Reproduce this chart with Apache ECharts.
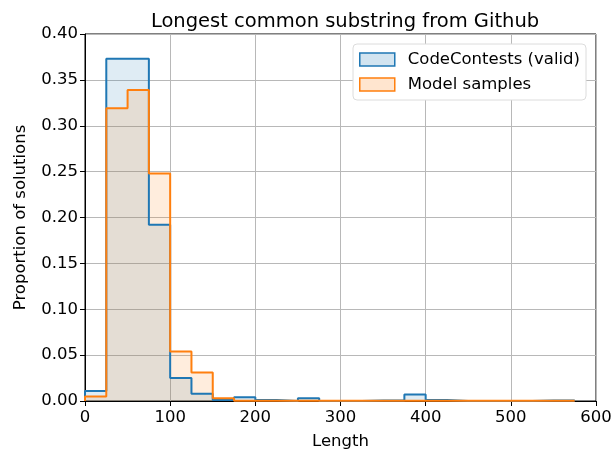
<!DOCTYPE html>
<html>
<head>
<meta charset="utf-8">
<script src="https://cdn.jsdelivr.net/npm/echarts@6/dist/echarts.min.js"></script>
<style>
  html, body { margin: 0; padding: 0; background: #fff; }
  #main { width: 613px; height: 451px; }
</style>
</head>
<body>
<div id="main"></div>
<script>
// histogram bins, width 25, from 0 to 575
var binEdges = [0, 25, 50, 75, 100, 125, 150, 175, 200, 225, 250, 275, 300, 325, 350, 375, 400, 425, 450, 475, 500, 525, 550, 575];
var codeContests = [0.011, 0.373, 0.373, 0.192, 0.025, 0.008, 0.001, 0.004, 0.001, 0, 0.003, 0, 0, 0.0005, 0.0005, 0.007, 0.001, 0, 0, 0, 0, 0.0005, 0.0005];
var modelSamples = [0.005, 0.319, 0.339, 0.248, 0.054, 0.031, 0.003, 0.0003, 0.0002, 0.0002, 0.0002, 0.0002, 0.0002, 0.0002, 0.0002, 0.0002, 0.0002, 0.0002, 0.0002, 0.0002, 0.0002, 0.0002, 0.0002];
var xTicks = [0, 100, 200, 300, 400, 500, 600];

function stepData(vals) {
  var d = [[binEdges[0], 0]];
  for (var i = 0; i < vals.length; i++) {
    d.push([binEdges[i], vals[i]]);
  }
  var last = binEdges[binEdges.length - 1];
  d.push([last, vals[vals.length - 1]]);
  d.push([last, 0]);
  return d;
}

var font = 'DejaVu Sans';
var chart = echarts.init(document.getElementById('main'));
var option = {
  animation: false,
  textStyle: { fontFamily: font },
  title: {
    text: 'Longest common substring from Github',
    left: 340, top: 7, textAlign: 'center',
    textStyle: { fontFamily: font, fontSize: 19.5, fontWeight: 'normal', color: '#000' }
  },
  legend: {
    orient: 'vertical',
    right: 27, top: 44,
    itemWidth: 35, itemHeight: 13, itemGap: 8,
    padding: [7, 6, 7, 6],
    backgroundColor: '#fff',
    borderColor: '#dcdcdc', borderWidth: 1, borderRadius: 4,
    textStyle: { fontFamily: font, fontSize: 16.5, color: '#000', padding: [0, 0, 0, 8] },
    data: [
      { name: 'CodeContests (valid)', icon: 'rect', itemStyle: { color: 'rgba(31,119,180,0.2)', borderColor: '#1f77b4', borderWidth: 1.5 } },
      { name: 'Model samples', icon: 'rect', itemStyle: { color: 'rgba(255,127,14,0.2)', borderColor: '#ff7f0e', borderWidth: 1.5 } }
    ]
  },
  grid: { left: 85, right: 17, top: 34, bottom: 50, outerBoundsMode: 'none', show: true, borderColor: '#000', borderWidth: 1 },
  xAxis: {
    type: 'value', min: 0, max: 600, interval: 100,
    name: 'Length', nameLocation: 'middle', nameGap: 32,
    nameTextStyle: { fontFamily: font, fontSize: 16.5, color: '#000' },
    axisLine: { show: true, lineStyle: { color: '#000' } },
    axisTick: { show: true, length: 5, lineStyle: { color: '#000' } },
    axisLabel: { fontFamily: font, fontSize: 16.5, color: '#000', margin: 8,
      customValues: xTicks },
    splitLine: { show: true, lineStyle: { color: '#b8b8b8', width: 1 } }
  },
  yAxis: {
    type: 'value', min: 0, max: 0.4, interval: 0.05,
    name: 'Proportion of solutions', nameLocation: 'middle', nameGap: 56,
    nameTextStyle: { fontFamily: font, fontSize: 16.5, color: '#000' },
    axisLine: { show: true, lineStyle: { color: '#000' } },
    axisTick: { show: true, length: 5, lineStyle: { color: '#000' } },
    axisLabel: { fontFamily: font, fontSize: 16.5, color: '#000', margin: 7,
      formatter: function (v) { return v.toFixed(2); } },
    splitLine: { show: true, lineStyle: { color: '#b8b8b8', width: 1 } }
  },
  series: [
    {
      name: 'CodeContests (valid)',
      type: 'line', step: 'end', symbol: 'none',
      data: stepData(codeContests),
      lineStyle: { color: '#1f77b4', width: 2 },
      itemStyle: { color: '#1f77b4' },
      areaStyle: { color: 'rgba(31,119,180,0.2)' }
    },
    {
      name: 'Model samples',
      type: 'line', step: 'end', symbol: 'none',
      data: stepData(modelSamples),
      lineStyle: { color: '#ff7f0e', width: 2 },
      itemStyle: { color: '#ff7f0e' },
      areaStyle: { color: 'rgba(255,127,14,0.2)' }
    }
  ]
};
chart.setOption(option);
</script>
</body>
</html>
